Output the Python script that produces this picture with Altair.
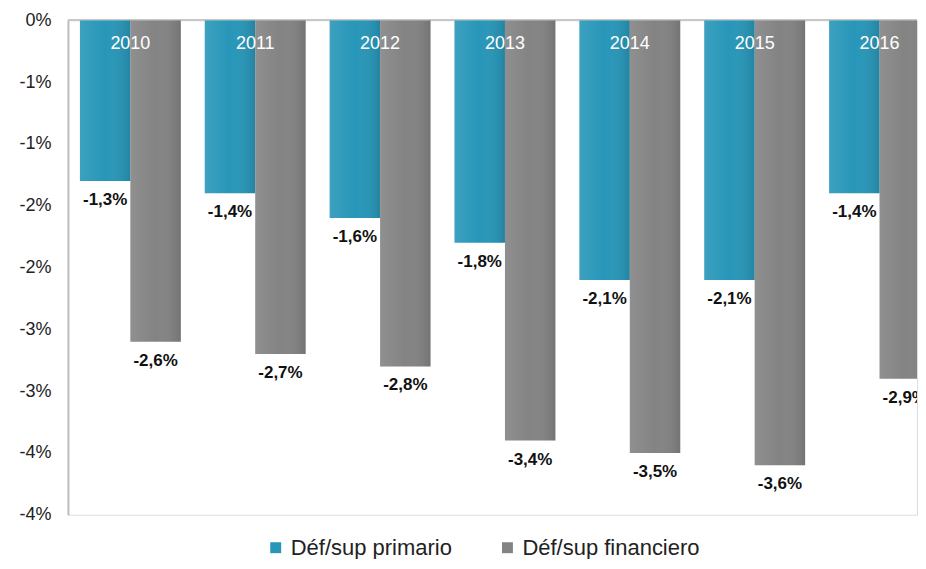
import altair as alt
import pandas as pd

years = ["2010", "2011", "2012", "2013", "2014", "2015", "2016"]
primario = [-1.3, -1.4, -1.6, -1.8, -2.1, -2.1, -1.4]
financiero = [-2.6, -2.7, -2.8, -3.4, -3.5, -3.6, -2.9]
series_names = ["Déf/sup primario", "Déf/sup financiero"]
series_colors = ["#2796b8", "#838383"]
tick_values = [0, -0.5, -1, -1.5, -2, -2.5, -3, -3.5, -4]
tick_labels = ["0%", "-1%", "-1%", "-2%", "-2%", "-3%", "-3%", "-4%", "-4%"]

rows = []
for y, p, f in zip(years, primario, financiero):
    rows.append({"year": y, "serie": series_names[0], "value": p,
                 "label": ("%.1f%%" % p).replace(".", ",")})
    rows.append({"year": y, "serie": series_names[1], "value": f,
                 "label": ("%.1f%%" % f).replace(".", ",")})
df = pd.DataFrame(rows)
years_df = pd.DataFrame({"year": years})

FONT = "Liberation Sans"
label_expr = "[" + ",".join("'%s'" % t for t in tick_labels) + "][round(-datum.value*2)]"

x_enc = alt.X("year:N", sort=years, title=None, axis=None,
              scale=alt.Scale(range=[0, 875], paddingInner=0.192, paddingOuter=0.096))
y_scale = alt.Scale(domain=[-4, 0], nice=False)
xoff = alt.XOffset("serie:N", sort=series_names, scale=alt.Scale(paddingInner=0, paddingOuter=0))

bars = alt.Chart(df).mark_bar(clip=True).encode(
    x=x_enc,
    xOffset=xoff,
    y=alt.Y("value:Q", scale=y_scale, stack=None, title=None,
            axis=alt.Axis(values=tick_values, labelExpr=label_expr, grid=False,
                          ticks=False, domainColor="#bdbdbd", domainWidth=2,
                          labelFontSize=18, labelColor="#222222", labelFont=FONT,
                          labelPadding=17, minExtent=50, maxExtent=50)),
    color=alt.Color("serie:N", sort=series_names,
                    scale=alt.Scale(domain=series_names, range=series_colors),
                    legend=alt.Legend(title=None, orient="none", direction="horizontal",
                                      legendX=197, legendY=517, symbolType="square",
                                      symbolSize=120, symbolStrokeWidth=0,
                                      labelFontSize=22, labelFont=FONT, labelLimit=0,
                                      labelColor="#222222", labelOffset=4,
                                      columnPadding=44)),
)

shade = alt.Chart(df).mark_bar(
    clip=True,
    color=alt.Gradient(gradient="linear", x1=0, x2=1, y1=0, y2=0,
                       stops=[alt.GradientStop(offset=0, color="rgba(255,255,255,0.10)"),
                              alt.GradientStop(offset=0.5, color="rgba(255,255,255,0.0)"),
                              alt.GradientStop(offset=1, color="rgba(0,0,0,0.12)")]),
).encode(
    x=alt.X("year:N", sort=years),
    xOffset=alt.XOffset("serie:N", sort=series_names),
    y=alt.Y("value:Q", stack=None),
)

zero_rule = alt.Chart(years_df).mark_rule(color="#c8c8c8", strokeWidth=1.5).encode(
    y=alt.datum(0),
)

values_text = alt.Chart(df).mark_text(
    clip=True, fontSize=17, fontWeight="bold", font=FONT, color="#111111", dy=19
).encode(
    x=alt.X("year:N", sort=years),
    xOffset=alt.XOffset("serie:N", sort=series_names),
    y=alt.Y("value:Q", stack=None),
    text="label:N",
)

year_text = alt.Chart(years_df).mark_text(
    clip=True, fontSize=18, font=FONT, color="#ffffff", baseline="middle"
).encode(
    x=alt.X("year:N", sort=years),
    y=alt.value(24),
    text="year:N",
)

chart = alt.layer(zero_rule, bars, shade, values_text, year_text).properties(
    width=850, height=495,
    padding={"left": 10, "top": 3, "right": 0, "bottom": 0},
).configure_view(stroke=None).configure(font=FONT)

chart.save("out.html", embed_options={"renderer": "svg", "actions": False})
